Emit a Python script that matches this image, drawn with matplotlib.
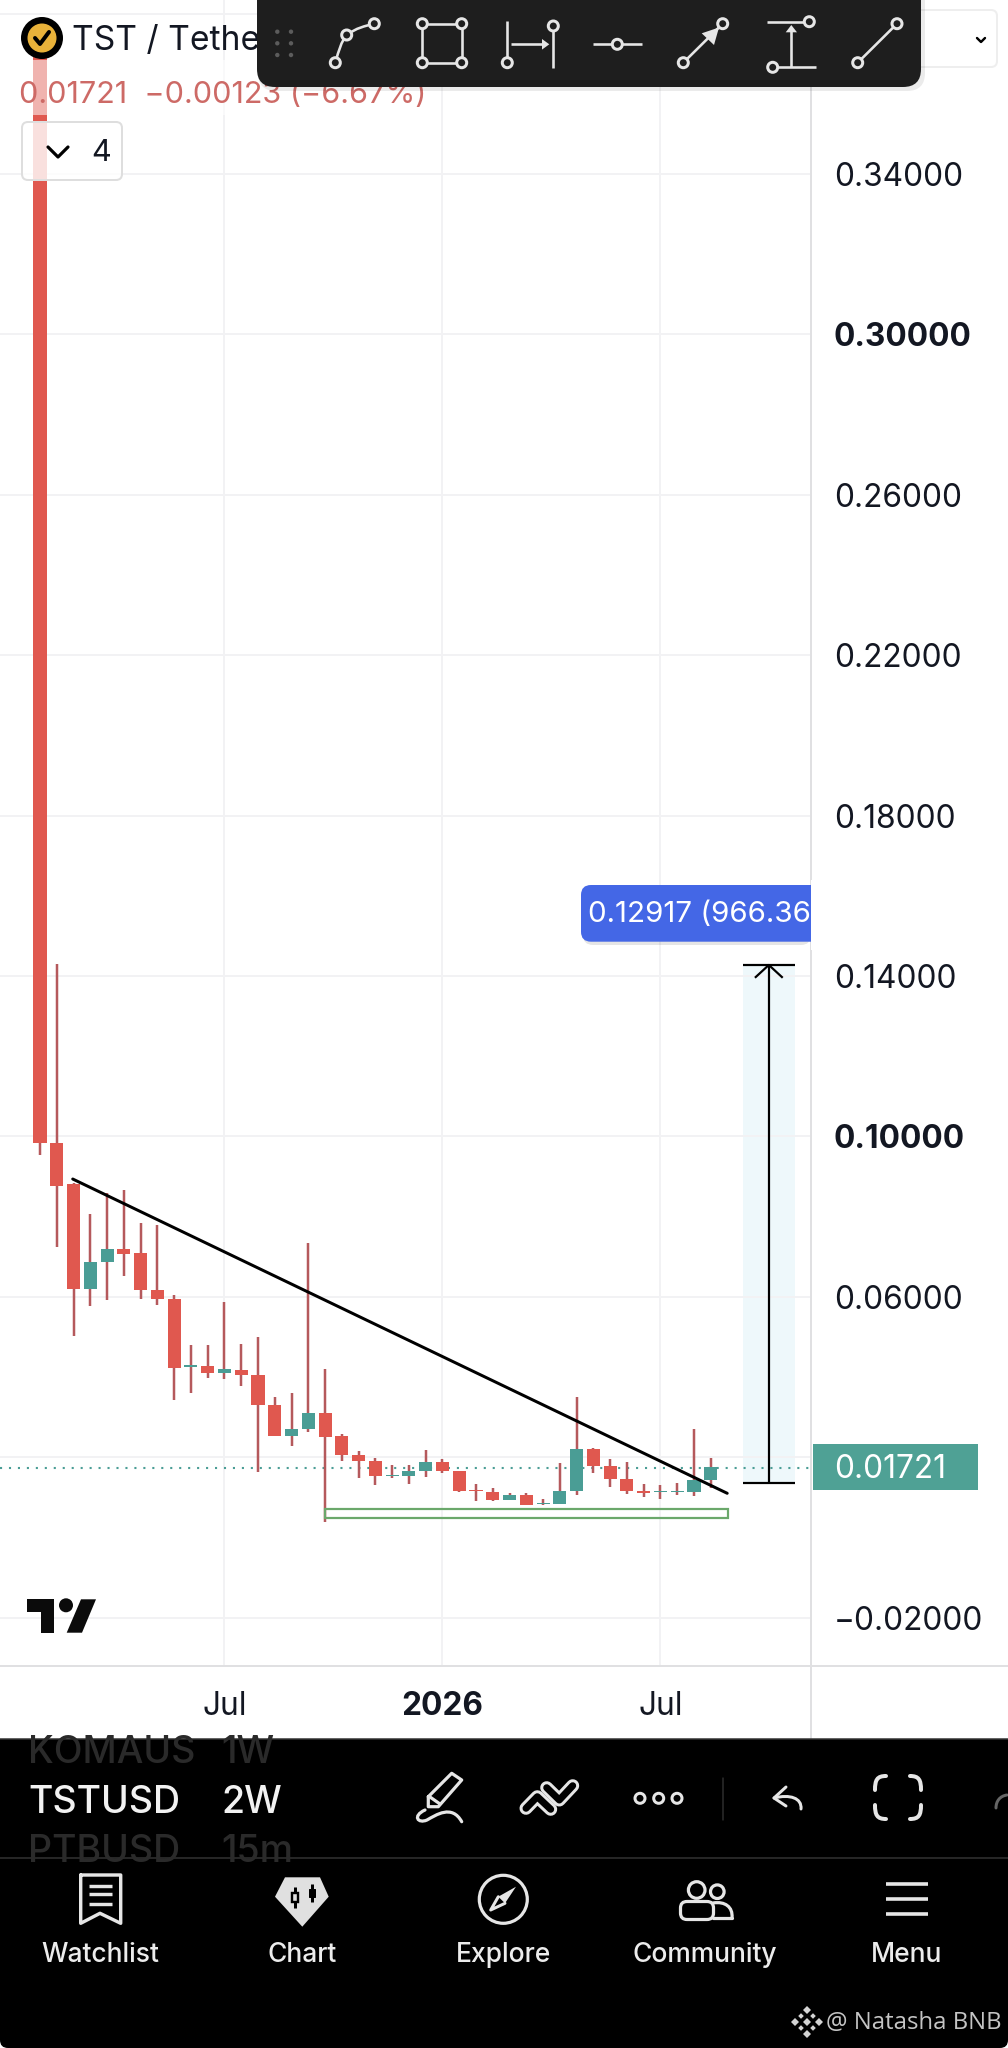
import numpy as np
import matplotlib.pyplot as plt
from matplotlib.patches import Rectangle, Circle, FancyBboxPatch, Polygon, PathPatch
from matplotlib.path import Path

plt.rcParams['font.family'] = ['Inter', 'DejaVu Sans']

# two week candles
opens = [0.37591, 0.09828, 0.08805, 0.06202, 0.06875, 0.07184, 0.07084, 0.06169, 0.05944, 0.04241, 0.04274,
         0.04092, 0.04174, 0.04049, 0.03293, 0.02536, 0.02703, 0.03109, 0.02521, 0.02054, 0.01897, 0.01523,
         0.01538, 0.01655, 0.01880, 0.01648, 0.01181, 0.01139, 0.00932, 0.01049, 0.00824, 0.00839, 0.01156,
         0.02204, 0.01787, 0.01448, 0.01164, 0.01124, 0.01124, 0.01139, 0.01431]
closes = [0.09828, 0.08770, 0.06186, 0.06875, 0.07184, 0.07074, 0.06169, 0.05937, 0.04224, 0.04291, 0.04092,
          0.04192, 0.04049, 0.03293, 0.02536, 0.02703, 0.03109, 0.02511, 0.02054, 0.01897, 0.01523, 0.01563,
          0.01655, 0.01880, 0.01648, 0.01156, 0.01149, 0.00925, 0.01049, 0.00815, 0.00857, 0.01156, 0.02211,
          0.01780, 0.01448, 0.01149, 0.01114, 0.01164, 0.01164, 0.01431, 0.01762]
highs = [0.37591, 0.14299, 0.08845, 0.08064, 0.08595, 0.08663, 0.07847, 0.07790, 0.06044, 0.04790, 0.04790,
         0.05870, 0.04822, 0.04989, 0.03493, 0.03593, 0.07334, 0.04207, 0.02571, 0.02154, 0.01979, 0.01812,
         0.01797, 0.02179, 0.01962, 0.01655, 0.01323, 0.01224, 0.01114, 0.01114, 0.00957, 0.01855, 0.03508,
         0.02221, 0.01947, 0.01887, 0.01323, 0.01299, 0.01364, 0.02695, 0.01987]
lows = [0.09536, 0.07249, 0.05022, 0.05770, 0.05912, 0.06526, 0.05952, 0.05787, 0.03426, 0.03608, 0.03967,
        0.03949, 0.03782, 0.01638, 0.02536, 0.02279, 0.02635, 0.00383, 0.01912, 0.01481, 0.01306, 0.01473,
        0.01323, 0.01513, 0.01598, 0.01139, 0.00907, 0.00907, 0.00925, 0.00800, 0.00815, 0.00832, 0.01057,
        0.01598, 0.01264, 0.01082, 0.00999, 0.00957, 0.01064, 0.01032, 0.01224]

price_ticks = [0.38, 0.34, 0.30, 0.26, 0.22, 0.18, 0.14, 0.10, 0.06, 0.02, -0.02]
price_labels = ['', '0.34000', '0.30000', '0.26000', '0.22000', '0.18000', '0.14000', '0.10000', '0.06000', '',
                '\u22120.02000']
bold_labels = ['0.30000', '0.10000']
time_ticks = [11, 24, 37]
time_labels = ['Jul', '2026', 'Jul']
last_price = 0.01721

trend_x = [1.95, 40.98]
trend_y = [0.08937, 0.01099]
zone_x = [17.0, 41.0]
zone_y = [0.00491, 0.00700]
range_x = [41.9, 45.02]
range_y = [0.01348, 0.14274]

RED = '#e0584f'
GREEN = '#4a9d95'
WICK = '#b5595c'
GRID = '#f2f2f4'
LINE = '#e0e0e2'
LIGHT = '#e6e6e6'
PANEL = '#000000'


def px(w):
    return w * 0.72


fig = plt.figure(figsize=(10.08, 20.48), dpi=100, facecolor='white')

# chart area: x 0-811, y 0-1666 pixels
ax = fig.add_axes([0, 1 - 1666 / 2048, 811 / 1008, 1666 / 2048])
ax.set_xlim(-40 / 16.77, (811 - 40) / 16.77)
ax.set_ylim(0.38339 - 1666 * 0.00024938, 0.38339)
for s in ax.spines.values():
    s.set_visible(False)
ax.set_axisbelow(True)
ax.grid(True, color=GRID, lw=px(2))

ax.yaxis.tick_right()
ax.set_yticks(price_ticks, price_labels)
ax.set_xticks(time_ticks, time_labels)
ax.tick_params(length=0, labelsize=22.8, labelcolor='#131722')
ax.tick_params(axis='y', pad=16.5)
ax.tick_params(axis='x', pad=18)
for lab in ax.get_yticklabels() + ax.get_xticklabels():
    if lab.get_text() in bold_labels or lab.get_text() == '2026':
        lab.set_fontweight('bold')

idx = np.arange(len(opens))
o = np.array(opens)
c = np.array(closes)
colors = [GREEN if b > a else RED for a, b in zip(o, c)]
ax.vlines(idx, lows, highs, colors=WICK, lw=px(2.5), zorder=2)
ax.bar(idx, np.abs(c - o), bottom=np.minimum(o, c), width=0.78, color=colors, zorder=3)

ax.axhline(last_price + 0.00014, color=GREEN, lw=1.5, ls=(0, (1, 3.3)), zorder=1)

ax.plot(trend_x, trend_y, color='black', lw=px(3), zorder=5, solid_capstyle='round')
ax.add_patch(Rectangle((zone_x[0], zone_y[0]), zone_x[1] - zone_x[0], zone_y[1] - zone_y[0],
                       fill=False, ec='#6ba86b', lw=px(2.2), zorder=5))

# price range tool
ax.fill_between(range_x, range_y[0], range_y[1], color='#eef8fb', zorder=0.5, lw=0)
ax.hlines(range_y, range_x[0], range_x[1], color='black', lw=px(2.2), zorder=4)
mid = sum(range_x) / 2
ax.vlines(mid, range_y[0], range_y[1], color='black', lw=px(2.2), zorder=4)
ax.plot([mid - 0.78, mid, mid + 0.78], [range_y[1] - 0.003, range_y[1], range_y[1] - 0.003], color='black', lw=px(2.2), zorder=4)

# everything around the chart, in screen pixels
ov = fig.add_axes([0, 0, 1, 1], facecolor='none')
ov.set_xlim(0, 1008)
ov.set_ylim(2048, 0)
ov.axis('off')


def line(xs, ys, color=LIGHT, w=3, z=5, **kw):
    ov.plot(xs, ys, color=color, lw=px(w), zorder=z, solid_capstyle=kw.pop('cap', 'round'),
            solid_joinstyle='round', **kw)


def node(x, y, r=5, face='#1e1e1e', z=6):
    ov.add_patch(Circle((x, y), r, fc=face, ec=LIGHT, lw=px(3), zorder=z))


def poly(pts, color=LIGHT, z=6):
    ov.add_patch(Polygon(pts, closed=True, fc=color, ec='none', zorder=z))


def rbox(x0, y0, x1, y1, r, z, **kw):
    ov.add_patch(FancyBboxPatch((x0 + r, y0 + r), x1 - x0 - 2 * r, y1 - y0 - 2 * r,
                                boxstyle=f'round,pad={r},rounding_size={r}', zorder=z, **kw))


def curve(pts, color=LIGHT, w=3, z=6):
    # pts: start then triplets of cubic control points
    codes = [Path.MOVETO] + [Path.CURVE4] * (len(pts) - 1)
    ov.add_patch(PathPatch(Path(pts, codes), fc='none', ec=color, lw=px(w), zorder=z, capstyle='round'))


ov.plot([811, 811], [0, 1739], color=LINE, lw=px(2), zorder=1)
ov.plot([0, 1008], [1666, 1666], color=LINE, lw=px(2), zorder=1)

# header
ov.add_patch(Rectangle((0, 60), 430, 55, fc='white', alpha=0.55, ec='none', zorder=2))
ov.add_patch(Circle((42, 38), 21, fc='black', zorder=3))
ov.add_patch(Circle((42, 38), 14.5, fc='#e9b23a', zorder=3))
ov.plot([35, 40, 49], [38, 44, 32], color='black', lw=px(4), zorder=4, solid_capstyle='round')
ov.text(72, 41, 'TST / Tether', fontsize=24.2, color='#131722', va='center', zorder=3)
ov.text(19, 95, '0.01721  \u22120.00123 (\u22126.67%)', fontsize=22, color='#cd6a66', va='center', zorder=3)
rbox(22, 122, 122, 180, 6, 3, fc='white', alpha=0.82, ec='none')
rbox(22, 122, 122, 180, 6, 3, fc='none', ec='#dedede', lw=px(2))
ov.plot([48, 58, 68], [147, 157, 147], color='black', lw=px(3.2), zorder=4, solid_capstyle='round')
ov.text(101, 153, '4', fontsize=22, color='#131722', va='center', ha='center', zorder=4)
rbox(900, 10, 997, 67, 6, 2, fc='white', ec='#eeeeee', lw=px(2))
ov.plot([977, 981, 985], [38, 42, 38], color='black', lw=px(2.4), zorder=4, solid_capstyle='round')

# drawing toolbar
rbox(258, -20, 925, 91, 18, 6.5, fc='black', alpha=0.08, ec='none')
rbox(257, -20, 921, 87, 18, 7, fc='#1e1e1e', ec='none')
for dx in (277.3, 291):
    for dy in (31.7, 43.3, 55):
        ov.add_patch(Circle((dx, dy), 2.2, fc='#5c5c5c', zorder=8))


def t_line(xs, ys):
    line(xs, ys, z=8, w=2.6, cap='butt')


def t_node(x, y):
    node(x, y, r=5, z=9)


curve([(335.3, 62.7), (339, 50), (341, 42), (346.7, 35)], z=8, w=2.6)
curve([(346.7, 35), (356, 28), (365, 26), (374.3, 23.7)], z=8, w=2.6)
for p in [(335.3, 62.7), (346.7, 35), (374.3, 23.7)]:
    t_node(*p)
t_line([422.3, 461.7, 461.7, 422.3, 422.3], [23.7, 23.7, 62.7, 62.7, 23.7])
for p in [(422.3, 23.7), (461.7, 23.7), (422.3, 62.7), (461.7, 62.7)]:
    t_node(*p)
t_line([507.3, 507.3], [20.7, 62.7])
t_line([553.3, 553.3], [26, 68.3])
t_line([510.7, 542], [44.3, 44.3])
poly([(549.3, 44.3), (542, 39), (542, 49.6)], z=8)
t_node(507.3, 62.7)
t_node(553.3, 26)
t_line([593.3, 641.7], [44.3, 44.3])
t_node(617.3, 44.3)
t_line([683.3, 722.7], [62.7, 23.7])
poly([(719, 27.5), (701.7, 33.3), (714, 45)], z=8)
t_node(683.3, 62.7)
t_node(722.7, 23.7)
t_line([767.3, 809.3], [21.7, 21.7])
t_line([772.7, 815.7], [67.3, 67.3])
t_line([791.3, 791.3], [67.3, 30])
poly([(791.3, 25), (785.7, 32.3), (797, 32.3)], z=8)
t_node(809.3, 21.7)
t_node(772.7, 67.3)
t_line([857.7, 897], [62.7, 23.7])
t_node(857.7, 62.7)
t_node(897, 23.7)

# blue measure label
rbox(583, 888, 811, 945, 10, 2, fc='black', alpha=0.10, ec='none')
rbox(581, 885, 830, 941.7, 10, 3, fc='#4467e6', ec='none')
ov.add_patch(Rectangle((811, 880), 30, 70, fc='white', ec='none', zorder=3.1))
tb = ov.text(588, 915, '0.12917 (966.36', fontsize=21.3, color='white', va='center', zorder=4)
tb.set_clip_path(Rectangle((581, 885), 230, 57, transform=ov.transData))

# last price label
ov.add_patch(Rectangle((813, 1444), 165, 46, fc='#4fa195', ec='none', zorder=3))
ov.text(834, 1470, '0.01721', fontsize=22.8, color='white', va='center', zorder=4)

# tradingview mark
poly([(27.3, 1599.3), (54.3, 1599.3), (54.3, 1632.7), (41, 1632.7), (41, 1612.3), (27.3, 1612.3)], color='#0b0b0b', z=3)
ov.add_patch(Circle((66, 1605.3), 7, fc='#0b0b0b', zorder=3))
poly([(81, 1599.3), (96, 1599.3), (82, 1632.7), (66.7, 1632.7)], color='#0b0b0b', z=3)

# bottom panel
ov.add_patch(Rectangle((0, 1739), 1008, 200, fc=PANEL, ec='none', zorder=3))
rbox(0, 1800, 1008, 2048, 8, 3, fc=PANEL, ec='none')
ov.plot([0, 1008], [1739, 1739], color='#333333', lw=px(1.5), zorder=4)
ov.plot([0, 1008], [1858, 1858], color='#333333', lw=px(1.5), zorder=4)

clip = Rectangle((0, 1739), 1008, 119, transform=ov.transData)
for name, tf, y, col in [('KOMAUS', '1W', 1753, '#2a2a2a'), ('TSTUSD', '2W', 1803, '#f2f2f2'), ('PTBUSD', '15m', 1852, '#2a2a2a')]:
    t1 = ov.text(28, y, name, fontsize=27, color=col, va='center', zorder=5, fontweight='medium')
    t2 = ov.text(221, y, tf, fontsize=27, color=col, va='center', zorder=5, fontweight='medium')
    t1.set_clip_path(clip)
    t2.set_clip_path(clip)

# tool icons in the panel
line([428.3, 451.7, 461.7, 438.3, 428.3, 428.3], [1796.7, 1773.3, 1780, 1806.7, 1806.7, 1796.7], w=3.2)
line([430, 440], [1797, 1804], w=3.2)
curve([(425, 1810), (412, 1816), (418, 1824), (427, 1820), (436, 1815), (452, 1804), (461.7, 1821.7)], w=3.2)
line([526, 537.3, 550.7], [1808.3, 1796.7, 1809.3], w=13)
line([526, 537.3, 550.7], [1808.3, 1796.7, 1809.3], color=PANEL, w=7, z=5.1)
line([546.7, 559.3, 572.7], [1787.7, 1800, 1785.7], w=13, z=5.2)
line([546.7, 559.3, 572.7], [1787.7, 1800, 1785.7], color=PANEL, w=7, z=5.3)
for dx in (640, 658.7, 677):
    node(dx, 1798.3, r=5, face=PANEL)
line([723, 723], [1778, 1820], color='#2e2e2e', w=1.5)
line([786, 774, 786], [1787, 1798, 1806], w=3)
curve([(774, 1798), (790, 1794), (802, 1798), (801, 1809)], w=3)
curve([(875, 1790), (875, 1780), (877, 1776), (886, 1776)], w=4)
curve([(921, 1790), (921, 1780), (919, 1776), (910, 1776)], w=4)
curve([(875, 1805), (875, 1815), (877, 1819), (886, 1819)], w=4)
curve([(921, 1805), (921, 1815), (919, 1819), (910, 1819)], w=4)
curve([(996, 1808), (996, 1801), (1000, 1796), (1007, 1795)], color='#666666', w=3)

# nav icons
line([80.7, 120.7, 120.7, 100, 80.7, 80.7], [1875, 1875, 1923.3, 1913.3, 1923.3, 1875], w=3.4)
for ly in (1885.7, 1894.3, 1903.7):
    line([89.3, 111.7], [ly, ly], w=3.4, cap='butt')
poly([(285, 1877.3), (320, 1877.3), (328.7, 1896.7), (302.3, 1926.7), (275, 1896.7)], color='#e0e0e0')
line([295.3, 295.3], [1886.7, 1908.3], color=PANEL, w=3, z=7, cap='butt')
ov.add_patch(Rectangle((292.3, 1893), 6, 9, fc='#e0e0e0', ec=PANEL, lw=px(2.4), zorder=7.5))
line([311.7, 311.7], [1884.3, 1901.7], color=PANEL, w=3, z=7, cap='butt')
ov.add_patch(Rectangle((308.7, 1889), 6, 8.3, fc=PANEL, ec=PANEL, lw=px(1), zorder=7.5))
ov.add_patch(Circle((503.3, 1899.3), 24, fc='none', ec=LIGHT, lw=px(3.2), zorder=6))
poly([(516, 1886.7), (498.3, 1896.7), (505, 1903.3)])
line([498.3, 490.7, 505], [1896.7, 1910, 1903.3], w=3)
ov.add_patch(Circle((696.7, 1890), 8.3, fc=PANEL, ec=LIGHT, lw=px(3.2), zorder=6))
ov.add_patch(Circle((717.3, 1891.7), 6.8, fc=PANEL, ec=LIGHT, lw=px(3.2), zorder=6))
curve([(713, 1903), (725, 1901), (733, 1907), (732, 1917.7)], w=3.2)
line([732, 713], [1917.7, 1917.7], w=3.2)
ov.add_patch(FancyBboxPatch((687, 1908), 20, 5, boxstyle='round,pad=6.5,rounding_size=6.5', fc=PANEL, ec=LIGHT, lw=px(3.2), zorder=6.5))
for ly in (1884, 1899, 1913.7):
    line([886, 928], [ly, ly], w=3.6, cap='butt')

nav_names = ['Watchlist', 'Chart', 'Explore', 'Community', 'Menu']
nav_x = [100, 302, 503.5, 705, 907]
for n, nx in zip(nav_names, nav_x):
    ov.text(nx, 1955, n, fontsize=19, color='#ececec', ha='center', va='center', zorder=6, fontweight='medium')

# watermark
for dx, dy, s in [(807, 2010, 4), (807, 2034, 4), (795, 2022, 4), (819, 2022, 4), (807, 2022, 4), (801, 2016, 2.8), (813, 2016, 2.8), (801, 2028, 2.8), (813, 2028, 2.8)]:
    poly([(dx, dy - s), (dx + s, dy), (dx, dy + s), (dx - s, dy)], color='#d4d4d4')
ov.text(826, 2023, '@ Natasha BNB', fontsize=17.2, color='#c4c4c4', va='center', zorder=6, family=['Open Sans', 'DejaVu Sans'])

fig.savefig('out.png', dpi=100, facecolor='white')
